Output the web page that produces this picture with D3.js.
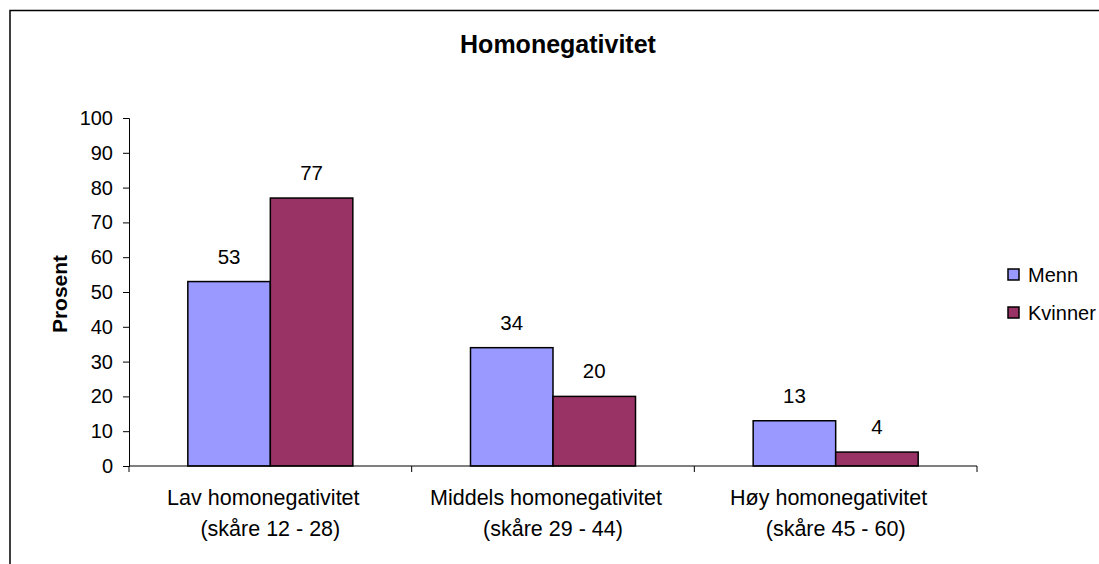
<!DOCTYPE html>
<html>
<head>
<meta charset="utf-8">
<script src="https://cdn.jsdelivr.net/npm/d3@7"></script>
<style>
  body { margin: 0; background: #fff; }
  text { font-family: "Liberation Sans", Arial, sans-serif; fill: #000; }
</style>
</head>
<body>
<svg id="chart" width="1099" height="564"></svg>
<script>
var categories = [
  ["Lav homonegativitet", "(skåre 12 - 28)"],
  ["Middels homonegativitet", "(skåre 29 - 44)"],
  ["Høy homonegativitet", "(skåre 45 - 60)"]
];
var seriesNames = ["Menn", "Kvinner"];
var menn = [53, 34, 13];
var kvinner = [77, 20, 4];
var yTicks = [0, 10, 20, 30, 40, 50, 60, 70, 80, 90, 100];
var colors = ["#9999FF", "#993366"];

var svg = d3.select("#chart");

// outer frame (runs off the right/bottom edge like the original)
svg.append("rect")
  .attr("x", 10).attr("y", 10.5)
  .attr("width", 1200).attr("height", 700)
  .attr("fill", "none").attr("stroke", "#000").attr("stroke-width", 1.5);

var plotLeft = 129, plotRight = 977, plotTop = 118, plotBottom = 466;

var x = d3.scaleBand()
  .domain(d3.range(categories.length))
  .range([plotLeft, plotRight])
  .paddingInner(0).paddingOuter(0);

var inner = d3.scaleBand()
  .domain(d3.range(seriesNames.length))
  .range([0, x.bandwidth()])
  .paddingOuter(0.713);

var y = d3.scaleLinear().domain([0, 100]).range([plotBottom, plotTop]);

// y axis
var yAxis = svg.append("g")
  .attr("transform", "translate(" + plotLeft + ",0)")
  .call(d3.axisLeft(y).tickValues(yTicks).tickSize(6).tickPadding(10));
yAxis.select(".domain").attr("stroke", "#000");
yAxis.selectAll("line").attr("stroke", "#000");
yAxis.selectAll("text")
  .style("font-size", "20px")
  .style("font-family", "'Liberation Sans', Arial, sans-serif")
  .attr("fill", "#000");

// bars
var data = [];
categories.forEach(function(c, i) {
  data.push({ cat: i, s: 0, v: menn[i] });
  data.push({ cat: i, s: 1, v: kvinner[i] });
});

svg.selectAll("rect.bar")
  .data(data)
  .enter()
  .append("rect")
  .attr("class", "bar")
  .attr("x", function(d) { return x(d.cat) + inner(d.s); })
  .attr("y", function(d) { return y(d.v); })
  .attr("width", inner.bandwidth())
  .attr("height", function(d) { return y(0) - y(d.v); })
  .attr("fill", function(d) { return colors[d.s]; })
  .attr("stroke", "#000")
  .attr("stroke-width", 1.5);

svg.selectAll("text.val")
  .data(data)
  .enter()
  .append("text")
  .attr("class", "val")
  .attr("x", function(d) { return x(d.cat) + inner(d.s) + inner.bandwidth() / 2; })
  .attr("y", function(d) { return y(d.v) - 18; })
  .attr("text-anchor", "middle")
  .style("font-size", "20.5px")
  .text(function(d) { return d.v; });

// x axis
svg.append("line")
  .attr("x1", plotLeft).attr("x2", plotRight)
  .attr("y1", plotBottom).attr("y2", plotBottom)
  .attr("stroke", "#000").attr("stroke-width", 1);
var edges = d3.range(categories.length + 1).map(function(i) {
  return i < categories.length ? x(i) : x(i - 1) + x.bandwidth();
});
svg.selectAll("line.xtick")
  .data(edges)
  .enter()
  .append("line")
  .attr("class", "xtick")
  .attr("x1", function(d) { return d; }).attr("x2", function(d) { return d; })
  .attr("y1", plotBottom).attr("y2", plotBottom + 6)
  .attr("stroke", "#000");

var labels = svg.selectAll("text.cat")
  .data(categories)
  .enter()
  .append("text")
  .attr("class", "cat")
  .attr("text-anchor", "middle")
  .style("font-size", "21.5px");
labels.append("tspan")
  .attr("x", function(d, i) { return x(i) + x.bandwidth() / 2 - 7; })
  .attr("y", 505)
  .text(function(d) { return d[0]; });
labels.append("tspan")
  .attr("x", function(d, i) { return x(i) + x.bandwidth() / 2; })
  .attr("y", 536)
  .text(function(d) { return d[1]; });

// title
svg.append("text")
  .attr("x", 558).attr("y", 53)
  .attr("text-anchor", "middle")
  .style("font-size", "25px").style("font-weight", "bold")
  .text("Homonegativitet");

// y label
svg.append("text")
  .attr("transform", "translate(67,294) rotate(-90)")
  .attr("text-anchor", "middle")
  .style("font-size", "21px").style("font-weight", "bold")
  .text("Prosent");

// legend
var legend = svg.selectAll("g.leg")
  .data(seriesNames)
  .enter()
  .append("g")
  .attr("class", "leg")
  .attr("transform", function(d, i) { return "translate(1008," + (269 + i * 38) + ")"; });
legend.append("rect")
  .attr("width", 11).attr("height", 11)
  .attr("fill", function(d, i) { return colors[i]; })
  .attr("stroke", "#000").attr("stroke-width", 1.5);
legend.append("text")
  .attr("x", 20).attr("y", 12.5)
  .style("font-size", "20px")
  .text(function(d) { return d; });
</script>
</body>
</html>
